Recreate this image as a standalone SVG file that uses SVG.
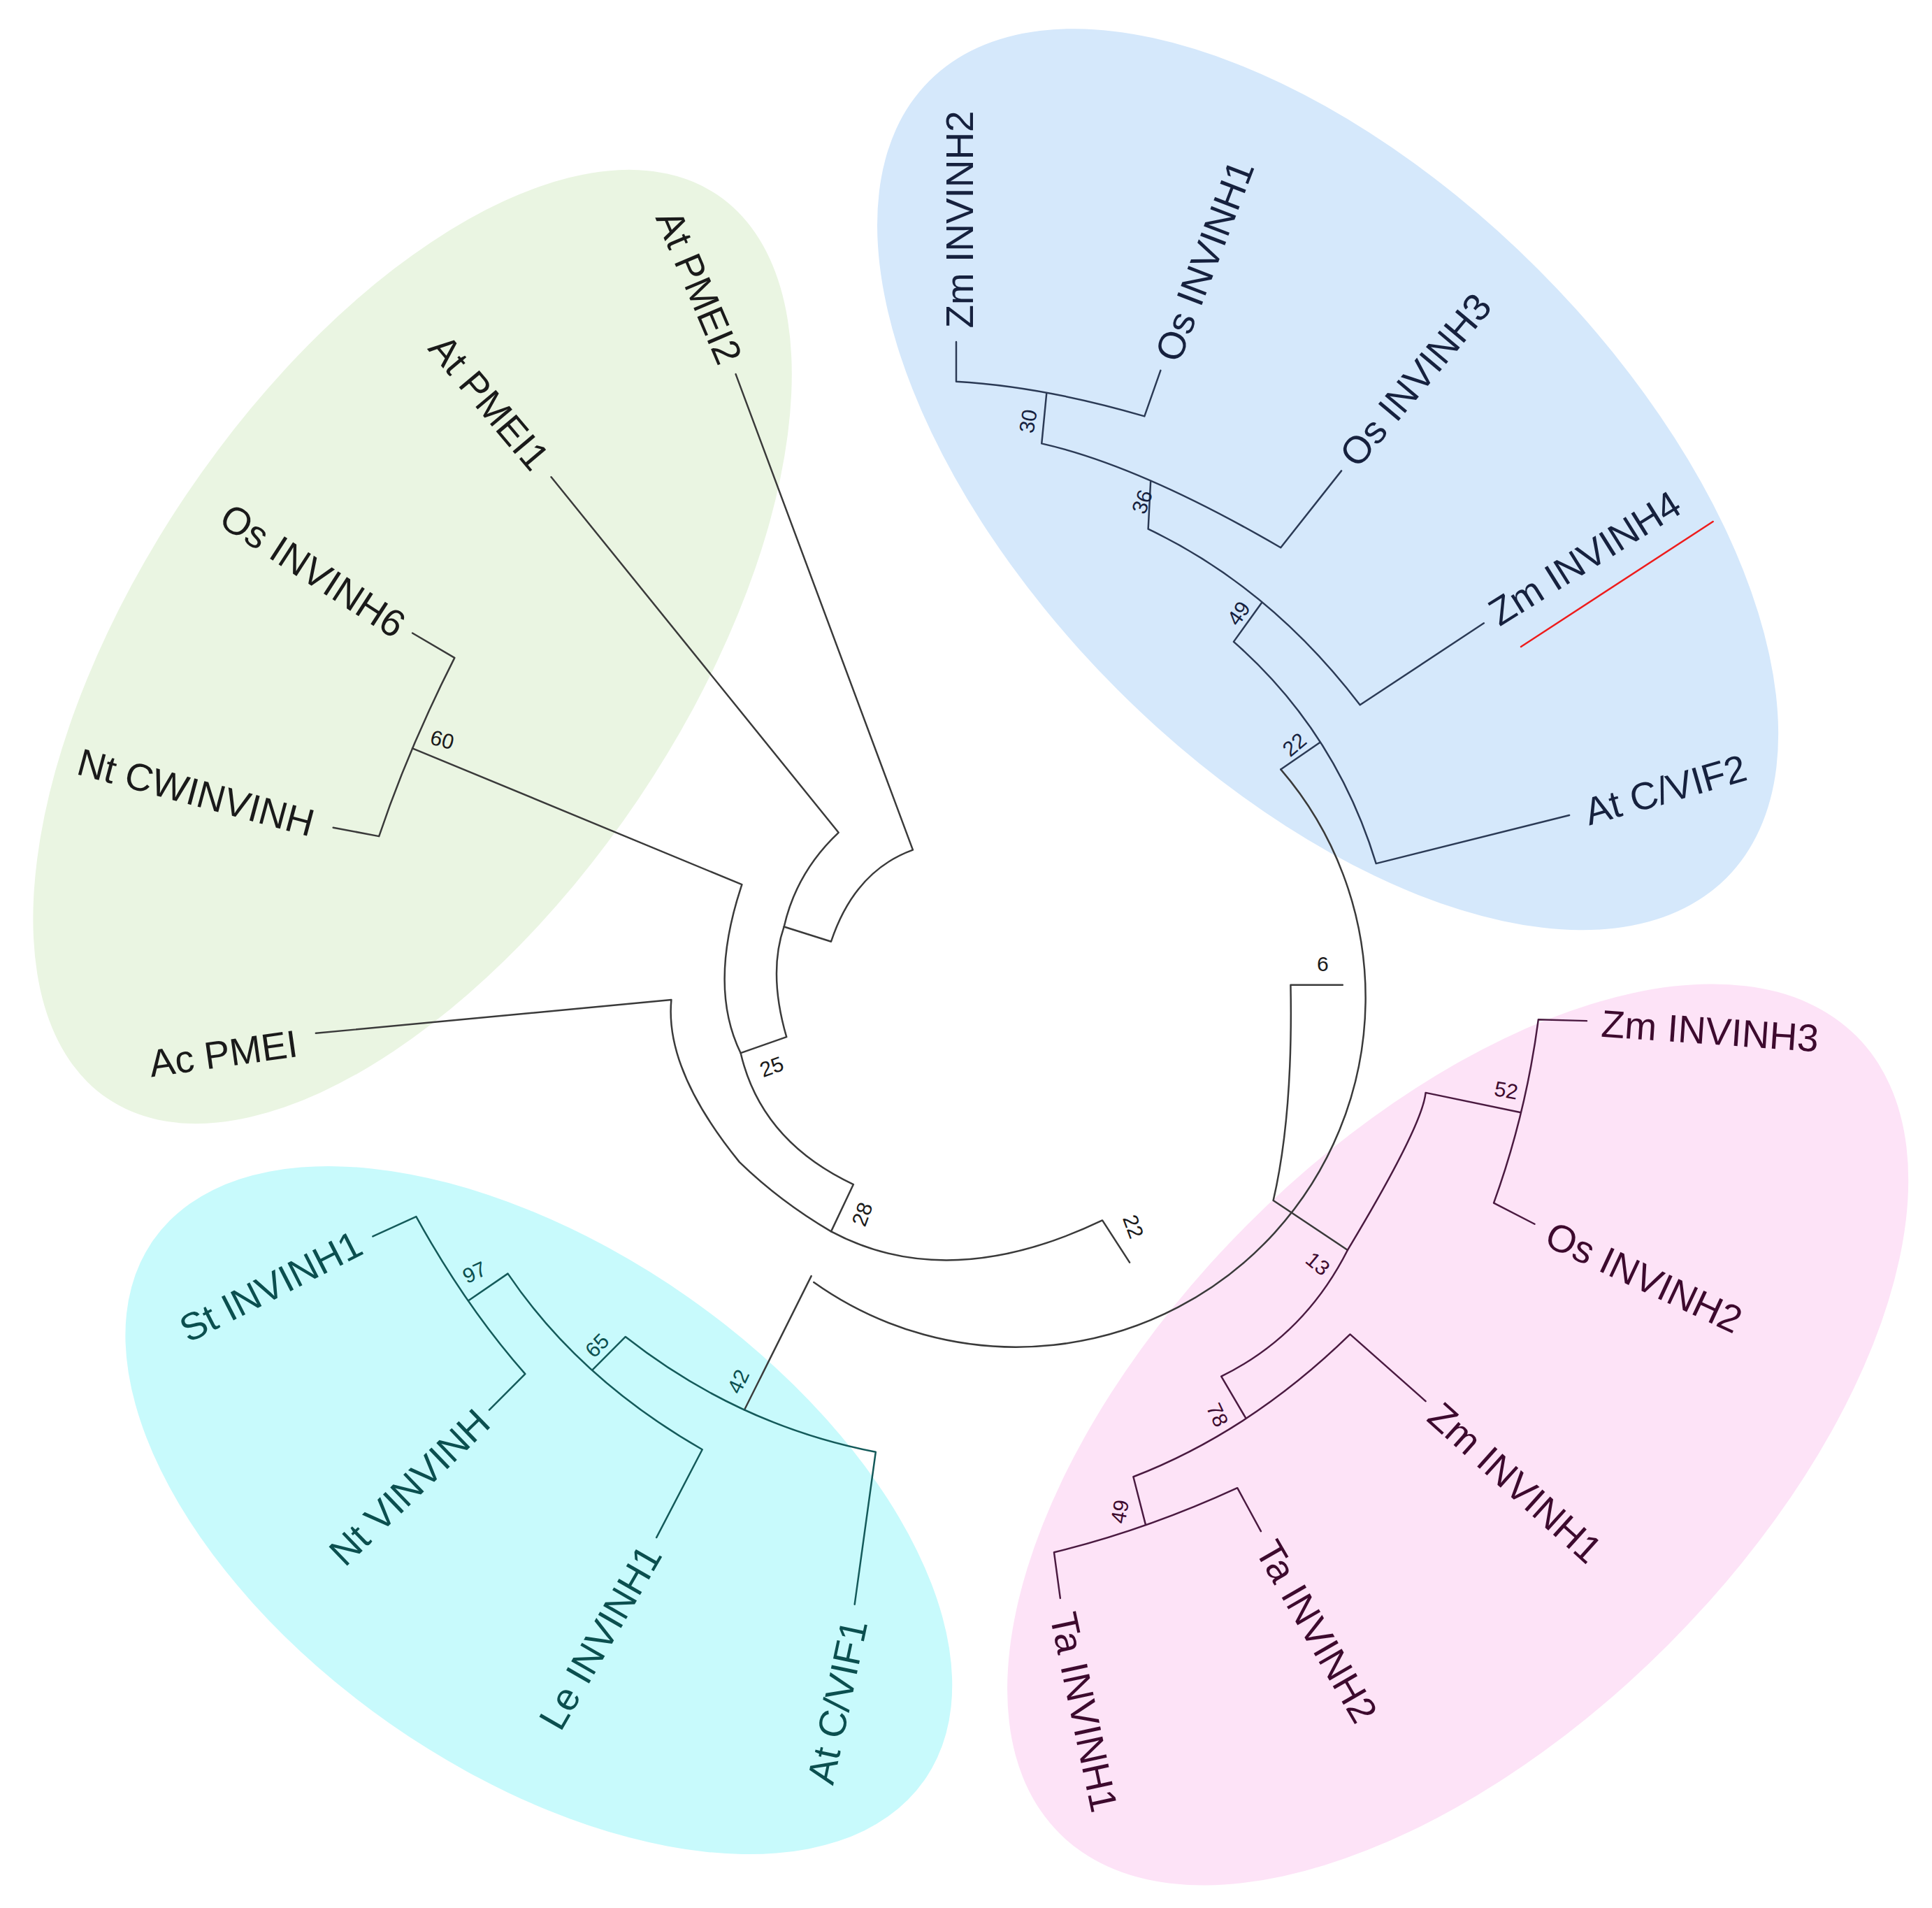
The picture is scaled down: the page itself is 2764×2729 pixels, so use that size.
<svg xmlns="http://www.w3.org/2000/svg" width="2764" height="2729" viewBox="0 0 2764 2729">
<style>
.t{font-family:"Liberation Sans",Arial,sans-serif;font-size:31px;dominant-baseline:central}
.n{font-family:"Liberation Sans",Arial,sans-serif;font-size:17px;dominant-baseline:central;text-anchor:middle}
.e{text-anchor:end}
.g{fill:#1a1a1a}.b{fill:#16213e}.p{fill:#3d0a2e}.c{fill:#0b4f4f}
path,line{fill:none;stroke-width:1.4;stroke-linecap:round;stroke-linejoin:round}
.lk{stroke:#3a3a3a}.lb{stroke:#2b3a55}.lp{stroke:#4a1a40}.lc{stroke:#145a5a}
</style>
<rect width="2764" height="2729" fill="#ffffff"/>
<g transform="scale(1.772)">
<g id="clades">
<ellipse cx="333" cy="522" rx="440" ry="220" transform="rotate(-56 333 522)" fill="#eaf5e2"/>
<ellipse cx="1072" cy="387" rx="455" ry="240" transform="rotate(45 1072 387)" fill="#d5e8fb"/>
<ellipse cx="1177" cy="1158" rx="455" ry="240" transform="rotate(-45 1177 1158)" fill="#fde3f7"/>
<ellipse cx="435" cy="1219" rx="380" ry="210" transform="rotate(35 435 1219)" fill="#c8fafc"/>
</g>
<g id="connectors">
<path class="lk" d="M594,302 L737,686 Q690,703 671,760 L633,748"/>
<path class="lk" d="M445,385 L677,672 Q643,704 633,748 Q620,785.5 635,837 L598,850"/>
<path class="lk" d="M333,604 L599,714 Q571.5,796 598,850 Q614.5,921 689,956 L671,994"/>
<path class="lk" d="M255,834 L542,807 Q536.5,863.5 597,938 Q630,970 671,994 Q765.5,1044.5 890,985 L912,1019"/>
<path class="lk" d="M657,1035 A282,282 0 0 0 1034,621"/>
<path class="lk" d="M1084,795 L1042,795 Q1044,900 1028,969 L1088,1009"/>
<path class="lk" d="M655,1030 L601,1138"/>
<path class="lk" d="M306,675 L269,668 M367,531 L333,511 M367,531 Q329.5,605 306,675"/>
<path class="lb" d="M772,276 L772,308 Q842,312 924,336 L937,299 M845,317 L841,358 Q920.5,376 1034,442 L1083,380 M929,388 L927,427 Q1025.5,474 1098,569 L1198,503 M1019,486 L996,518 Q1078.5,590.5 1111,697 L1267,658 M1066,599 L1034,621"/>
<path class="lp" d="M1088,1009 Q1148.5,908.5 1151,882 L1228,898 M1281,824 L1242,823 Q1232,899 1206,971 L1239,988 M1088,1009 Q1053,1078 986,1111 L1006,1145 M1151,1131 L1090,1077 Q1009.5,1155.5 915,1192 L925,1231 M1018,1236 L999,1201 Q925,1235 851,1253 L856,1290"/>
<path class="lc" d="M690,1295 L707,1172 Q596,1150.5 505,1079 L478,1106 M530,1241 L567,1170 Q467.5,1113 410,1028 L378,1050 M301,998 L336,982 Q376,1054.5 424,1109 L395,1138"/>
<line x1="1228" y1="522" x2="1383" y2="421" stroke="#ee1c1c" stroke-width="6" stroke-linecap="butt"/>
</g>
<g id="green">
<text class="t e g" transform="translate(590,292) rotate(67)">At PMEI2</text>
<text class="t e g" transform="translate(437,375) rotate(50)">At PMEI1</text>
<text class="t e g" transform="translate(324,507) rotate(33)">Os INVINH6</text>
<text class="t e g" transform="translate(253,665) rotate(15)">Nt CWINVINH</text>
<text class="t e g" transform="translate(240,842) rotate(-8)">Ac PMEI</text>
<text class="n g" transform="translate(357,597) rotate(15)">60</text>
<text class="n g" transform="translate(623,861) rotate(-20)">25</text>
<text class="n g" transform="translate(696,980) rotate(-70)">28</text>
<text class="n g" transform="translate(915,990) rotate(70)">22</text>
<text class="n g" transform="translate(1068,778)">6</text>
</g>
<g id="blue">
<text class="t b" transform="translate(775,265) rotate(-90)">Zm INVINH2</text>
<text class="t b" transform="translate(942,290) rotate(-69)">Os INVINH1</text>
<text class="t b" transform="translate(1088,372) rotate(-50)">Os INVINH3</text>
<text class="t b" transform="translate(1205,497) rotate(-32)">Zm INVINH4</text>
<text class="t b" transform="translate(1280,656) rotate(-16)">At C/VIF2</text>
<text class="n b" transform="translate(830,340) rotate(-80)">30</text>
<text class="n b" transform="translate(922,405) rotate(-70)">36</text>
<text class="n b" transform="translate(1000,495) rotate(-55)">49</text>
<text class="n b" transform="translate(1045,601) rotate(-40)">22</text>
</g>
<g id="pink">
<text class="t p" transform="translate(1293,826) rotate(4)">Zm INVINH3</text>
<text class="t p" transform="translate(1250,995) rotate(25)">Os INVINH2</text>
<text class="t p" transform="translate(1158,1138) rotate(42)">Zm INVINH1</text>
<text class="t p" transform="translate(1022,1246) rotate(60)">Ta INVINH2</text>
<text class="t p" transform="translate(858,1302) rotate(78)">Ta INVINH1</text>
<text class="n p" transform="translate(1216,880) rotate(10)">52</text>
<text class="n p" transform="translate(1064,1020) rotate(40)">13</text>
<text class="n p" transform="translate(983,1142) rotate(65)">78</text>
<text class="n p" transform="translate(904,1220) rotate(-80)">49</text>
</g>
<g id="cyan">
<text class="t e c" transform="translate(290,1002) rotate(-27)">St INVINH1</text>
<text class="t e c" transform="translate(390,1143) rotate(-44)">Nt VINVINH</text>
<text class="t e c" transform="translate(526,1250) rotate(-60)">Le INVINH1</text>
<text class="t e c" transform="translate(690,1308) rotate(-78)">At C/VIF1</text>
<text class="n c" transform="translate(383,1027) rotate(-25)">97</text>
<text class="n c" transform="translate(482,1086) rotate(-45)">65</text>
<text class="n c" transform="translate(596,1115) rotate(-65)">42</text>
</g>
</g>
</svg>
